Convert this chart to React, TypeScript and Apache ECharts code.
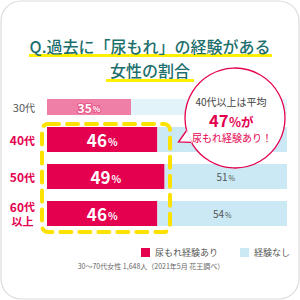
import React, { useEffect, useRef } from "react";
import * as echarts from "echarts";

const CATEGORIES = ["30代", "40代", "50代", "60代以上"];
const EXPERIENCED = [35, 46, 49, 46];
const NOT_EXPERIENCED = [65, 54, 51, 54];
const LEGEND_NAMES = ["尿もれ経験あり", "経験なし"];
const TITLE_LINES = ["Q.過去に「尿もれ」の経験がある", "女性の割合"];
const BUBBLE_LINES = ["40代以上は平均", "47", "%が", "尿もれ経験あり！"];
const FOOTNOTE = "30～70代女性 1,648人（2021年5月 花王調べ）";

const CRIMSON = "#e4004f";
const PINK = "#f07fa8";
const BLUE = "#cbe9f5";
const BLUE_LIGHT = "#e2f3fa";
const TEAL = "#1c6f6c";
const FONT = "'Noto Sans CJK JP', 'Noto Sans', sans-serif";

export default function App() {
  const ref = useRef<HTMLDivElement>(null);
  useEffect(() => {
    if (!ref.current) return;
    const chart = echarts.init(ref.current, undefined, { renderer: "svg" });
    const topCats = CATEGORIES.slice(0, 1);
    const restCats = CATEGORIES.slice(1);

    const pctLabel = (size: number, small: number, color: string, border: string, bw: number, bold: boolean) => ({
      show: true,
      position: "inside",
      formatter: (p: any) => `{n|${p.value}}{p|%}`,
      rich: {
        n: { fontSize: size, fontWeight: bold ? "bold" : "normal", color, textBorderColor: border, textBorderWidth: bw, fontFamily: FONT },
        p: { fontSize: small, fontWeight: bold ? "bold" : "normal", color, textBorderColor: border, textBorderWidth: bw, fontFamily: FONT, padding: [3, 0, 0, 1] },
      },
    });

    const catLabelFmt = (v: string) => {
      if (v === "30代") return "{g|30}{gs|代}";
      if (v === "60代以上") return "{a|60}{b|代}\n{c|以上}";
      return `{a|${v.replace("代", "")}}{b|代}`;
    };
    const catRich = {
      g: { fontSize: 11, color: "#555", fontFamily: FONT },
      gs: { fontSize: 10, color: "#555", fontFamily: FONT },
      a: { fontSize: 12, color: CRIMSON, fontWeight: "bold", fontFamily: FONT, lineHeight: 15 },
      b: { fontSize: 11, color: CRIMSON, fontWeight: "bold", fontFamily: FONT, lineHeight: 15 },
      c: { fontSize: 11, color: CRIMSON, fontWeight: "bold", fontFamily: FONT, lineHeight: 15, align: "center" },
    };

    const cx = 235, cy = 118, r = 50;
    const option: any = {
      animation: false,
      backgroundColor: "#fff",
      grid: [
        { left: 47, width: 240, top: 97, height: 20 },
        { left: 47, width: 240, top: 121, height: 111 },
      ],
      xAxis: [
        { gridIndex: 0, type: "value", min: 0, max: 100, show: false },
        { gridIndex: 1, type: "value", min: 0, max: 100, show: false },
      ],
      yAxis: [
        {
          gridIndex: 0, type: "category", data: topCats, inverse: true,
          axisLine: { show: false }, axisTick: { show: false },
          axisLabel: { margin: 12, formatter: catLabelFmt, rich: catRich },
        },
        {
          gridIndex: 1, type: "category", data: restCats, inverse: true,
          axisLine: { show: false }, axisTick: { show: false },
          axisLabel: { margin: 12, formatter: catLabelFmt, rich: catRich, align: "right" },
        },
      ],
      legend: {
        left: 136, top: 243, width: 180, orient: "horizontal",
        itemWidth: 9, itemHeight: 9, itemGap: 22,
        icon: "rect",
        textStyle: { fontSize: 9, color: "#555", fontFamily: FONT },
        data: [
          { name: LEGEND_NAMES[0], itemStyle: { color: CRIMSON } },
          { name: LEGEND_NAMES[1], itemStyle: { color: BLUE } },
        ],
        selectedMode: false,
      },
      series: [
        {
          name: LEGEND_NAMES[0], type: "bar", xAxisIndex: 1, yAxisIndex: 1, stack: "b",
          barWidth: 25, itemStyle: { color: CRIMSON },
          data: EXPERIENCED.slice(1),
          label: pctLabel(17, 10, "#fff", CRIMSON, 0, true),
        },
        {
          name: LEGEND_NAMES[1], type: "bar", xAxisIndex: 1, yAxisIndex: 1, stack: "b",
          barWidth: 25, itemStyle: { color: BLUE },
          data: NOT_EXPERIENCED.slice(1).map((v, i) => (i === 0 ? { value: v, label: { show: false } } : v)),
          label: pctLabel(10, 7, "#555", "transparent", 0, false),
        },
        {
          name: LEGEND_NAMES[0], type: "bar", xAxisIndex: 0, yAxisIndex: 0, stack: "a",
          barWidth: 16, itemStyle: { color: PINK },
          data: EXPERIENCED.slice(0, 1),
          label: pctLabel(12, 8, "#fff", "#e8578a", 2, true),
        },
        {
          name: LEGEND_NAMES[1], type: "bar", xAxisIndex: 0, yAxisIndex: 0, stack: "a",
          barWidth: 16, itemStyle: { color: BLUE_LIGHT },
          data: NOT_EXPERIENCED.slice(0, 1),
        },
      ],
      graphic: [
        {
          type: "rect", z: -10, silent: true,
          shape: { x: 1, y: 1, width: 298, height: 298, r: 20 },
          style: { fill: "#fff", stroke: "#dcdcdc", lineWidth: 1.2 },
        },
        { type: "rect", z: 1, shape: { x: 29, y: 54, width: 243, height: 3 }, style: { fill: "#fff000" } },
        { type: "rect", z: 1, shape: { x: 106, y: 79, width: 88, height: 3 }, style: { fill: "#fff000" } },
        {
          type: "text", z: 2, x: 150, y: 46,
          style: { text: TITLE_LINES[0], fill: TEAL, fontSize: 16, fontWeight: 500, fontFamily: FONT, align: "center", verticalAlign: "middle" },
        },
        {
          type: "text", z: 2, x: 150, y: 70,
          style: { text: TITLE_LINES[1], fill: TEAL, fontSize: 16, fontWeight: 500, fontFamily: FONT, align: "center", verticalAlign: "middle" },
        },
        {
          type: "rect", z: 50, silent: true,
          shape: { x: 42, y: 124, width: 128, height: 108, r: 6 },
          style: { fill: "none", stroke: "#fde100", lineWidth: 4, lineDash: [11, 8], lineCap: "round" },
        },
        {
          type: "circle", z: 100,
          shape: { cx, cy, r },
          style: { fill: "#fff", stroke: CRIMSON, lineWidth: 1.3 },
        },
        {
          type: "polygon", z: 101,
          shape: { points: [[178.5, 142], [187, 130], [192, 143]] },
          style: { fill: "#fff" },
        },
        {
          type: "polyline", z: 102,
          shape: { points: [[186.3, 131], [178.5, 142], [191, 142.3]] },
          style: { fill: "none", stroke: CRIMSON, lineWidth: 1.3 },
        },
        {
          type: "text", z: 103, x: 231, y: 101,
          style: { text: BUBBLE_LINES[0], fill: "#444", fontSize: 10, fontFamily: FONT, align: "center", verticalAlign: "middle" },
        },
        {
          type: "text", z: 103, x: 228.5, y: 119.5,
          style: { text: BUBBLE_LINES[1], fill: CRIMSON, fontSize: 16.5, fontWeight: "bold", fontFamily: FONT, align: "right", verticalAlign: "middle" },
        },
        {
          type: "text", z: 103, x: 229, y: 121,
          style: { text: BUBBLE_LINES[2], fill: CRIMSON, fontSize: 12.5, fontWeight: "bold", fontFamily: FONT, align: "left", verticalAlign: "middle" },
        },
        {
          type: "text", z: 103, x: 232, y: 137.5,
          style: { text: BUBBLE_LINES[3], fill: CRIMSON, fontSize: 10, fontFamily: FONT, align: "center", verticalAlign: "middle" },
        },
        {
          type: "text", z: 2, x: 151, y: 266,
          style: { text: FOOTNOTE, fill: "#666", fontSize: 7, fontFamily: FONT, align: "center", verticalAlign: "middle" },
        },
      ],
    };
    chart.setOption(option);
    return () => chart.dispose();
  }, []);
  return <div ref={ref} style={{ position: "absolute", left: 0, top: 0, width: 300, height: 300 }} />;
}
